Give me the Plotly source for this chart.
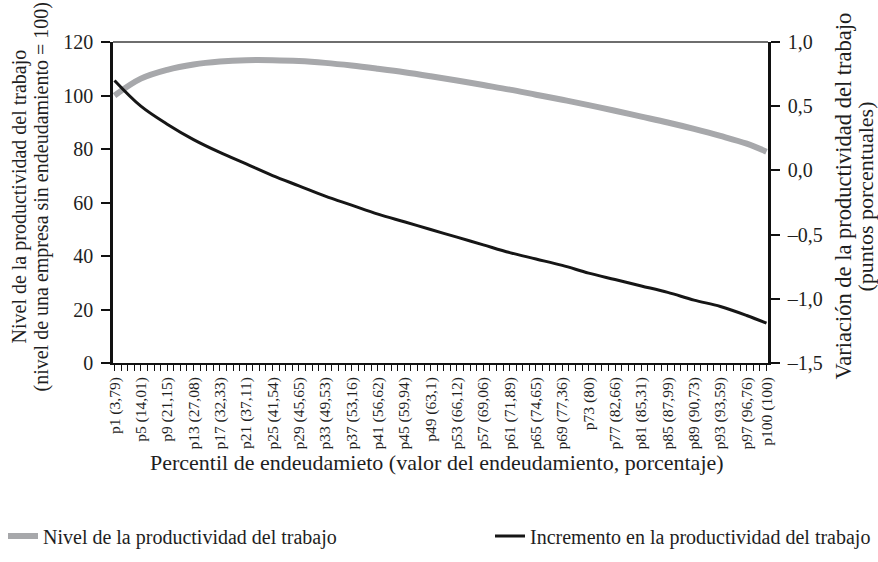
import plotly.graph_objects as go

# Percentiles shown on the axis and the leverage value at each one (%)
percentiles = [1, 5, 9, 13, 17, 21, 25, 29, 33, 37, 41, 45, 49, 53, 57, 61,
               65, 69, 73, 77, 81, 85, 89, 93, 97, 100]
leverage = ["3,79", "14,01", "21,15", "27,08", "32,33", "37,11", "41,54",
            "45,65", "49,53", "53,16", "56,62", "59,94", "63,1", "66,12",
            "69,06", "71,89", "74,65", "77,36", "80", "82,66", "85,31",
            "87,99", "90,73", "93,59", "96,76", "100"]
tick_labels = [f"p{p} ({v})" for p, v in zip(percentiles, leverage)]

# Labour productivity level (firm without debt = 100)
nivel = [100.0, 106.3, 109.6, 111.6, 112.7, 113.2, 113.2, 112.9, 112.2,
         111.2, 110.0, 108.7, 107.2, 105.6, 103.9, 102.2, 100.3, 98.4,
         96.4, 94.3, 92.1, 89.9, 87.5, 84.9, 82.0, 79.0]
# Change in labour productivity (percentage points)
incremento = [0.70, 0.50, 0.36, 0.24, 0.14, 0.05, -0.04, -0.12, -0.20,
              -0.27, -0.34, -0.40, -0.46, -0.52, -0.58, -0.64, -0.69, -0.74,
              -0.80, -0.85, -0.90, -0.95, -1.01, -1.06, -1.13, -1.19]

left_ticks = [0, 20, 40, 60, 80, 100, 120]
right_ticks = [-1.5, -1.0, -0.5, 0.0, 0.5, 1.0]
right_labels = ["\u20131,5", "\u20131,0", "\u20130,5", "0,0", "0,5", "1,0"]

FONT = "Liberation Serif"
INK = "#1e1e1e"
W, H = 878, 562
L, R, T, B = 113, 110, 42, 199
PW = W - L - R

fig = go.Figure()
fig.add_trace(go.Scatter(
    x=percentiles, y=nivel, mode="lines", line_shape="spline",
    line=dict(color="#a7a8ab", width=6),
    name="Nivel de la productividad del trabajo", yaxis="y",
    legend="legend"))
fig.add_trace(go.Scatter(
    x=percentiles, y=incremento, mode="lines", line_shape="spline",
    line=dict(color="#161616", width=3),
    name="Incremento en la productividad del trabajo", yaxis="y2",
    legend="legend2"))

tick_font = dict(family=FONT, size=20, color=INK)
# Legends sit in container coordinates so they do not push the margins
legend_common = dict(orientation="h", xanchor="left",
                     xref="container", yref="container",
                     y=1 - 536 / H, yanchor="middle", itemwidth=30,
                     font=dict(family=FONT, size=20, color=INK),
                     bgcolor="rgba(0,0,0,0)")


def side_title(text, px, size):
    """Rotated axis-title line centred at horizontal pixel px."""
    return dict(text=text, xref="paper", yref="paper",
                x=(px - L) / PW, y=0.5, yshift=6,
                xanchor="center", yanchor="middle", textangle=-90,
                showarrow=False, font=dict(family=FONT, size=size, color=INK))


fig.update_layout(
    width=W, height=H,
    margin=dict(l=L, r=R, t=T, b=B, pad=0),
    paper_bgcolor="white", plot_bgcolor="white",
    font=dict(family=FONT, size=19, color=INK),
    showlegend=True,
    legend=dict(x=3 / W, **legend_common),
    legend2=dict(x=490 / W, **legend_common),
    xaxis=dict(
        range=[0.77, 100.23], showgrid=False, zeroline=False,
        showline=True, linecolor="#111", linewidth=2, automargin=False,
        tickmode="array", tickvals=percentiles, ticktext=tick_labels,
        tickangle=-90, ticks="outside", ticklen=6, tickwidth=1,
        tickcolor="#111", tickfont=dict(family=FONT, size=15.5, color=INK),
        minor=dict(dtick=1, tick0=1, ticks="outside", ticklen=6,
                   tickwidth=1, tickcolor="#111", showgrid=False)),
    yaxis=dict(
        range=[0, 120], tickvals=left_ticks, showgrid=False, zeroline=False,
        showline=True, linecolor="#111", linewidth=2.5, automargin=False,
        ticks="outside", ticklen=9, tickwidth=1.5, tickcolor="#111",
        tickfont=tick_font, ticklabelstandoff=4),
    yaxis2=dict(
        range=[-1.5, 1.0], tickvals=right_ticks, ticktext=right_labels,
        overlaying="y", side="right", showgrid=False, zeroline=False,
        showline=True, linecolor="#111", linewidth=2.5, automargin=False,
        ticks="outside", ticklen=9, tickwidth=1.5, tickcolor="#111",
        tickfont=tick_font, ticklabelstandoff=4),
    shapes=[dict(type="line", xref="paper", yref="paper",
                 x0=0, x1=1, y0=1, y1=1,
                 line=dict(color="#6e6e6e", width=2))],
    annotations=[
        side_title("Nivel de la productividad del trabajo", 19, 20),
        side_title("(nivel de una empresa sin endeudamiento = 100)", 41, 20),
        side_title("Variación de la productividad del trabajo", 843, 22.5),
        side_title("(puntos porcentuales)", 865, 22),
        dict(text="Percentil de endeudamieto (valor del endeudamiento, "
                  "porcentaje)",
             xref="paper", yref="paper", x=0.5, y=0, yshift=-99, xshift=-4,
             xanchor="center", yanchor="middle",
             showarrow=False, font=dict(family=FONT, size=22, color=INK)),
    ],
)

fig.write_html("out.html")
